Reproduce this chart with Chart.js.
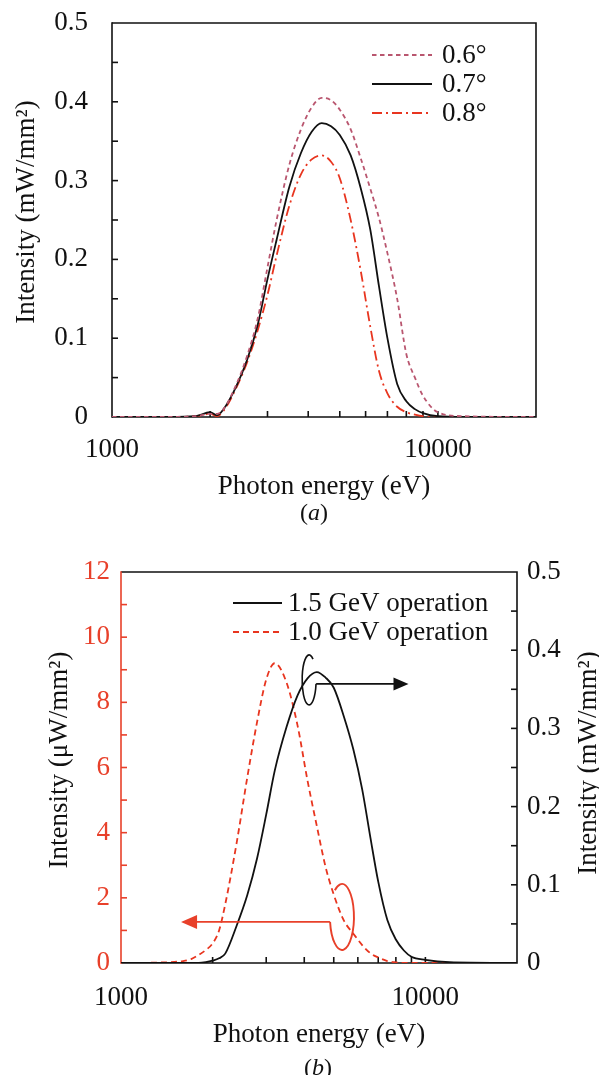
<!DOCTYPE html>
<html>
<head>
<meta charset="utf-8">
<script src="https://cdn.jsdelivr.net/npm/chart.js@4.4.1/dist/chart.umd.min.js"></script>
<style>
  body { margin: 0; background: #fff; width: 599px; height: 1075px; position: relative; overflow: hidden; }
  canvas { position: absolute; left: 0; }
  #chartA { top: 0; }
  #chartB { top: 540px; }
  .cap { position: absolute; font-family: 'Liberation Serif', 'Times New Roman', serif; font-size: 24px; color: #111; transform: translateX(-50%); }
</style>
</head>
<body>
<canvas id="chartA" width="599" height="540"></canvas>
<canvas id="chartB" width="599" height="535"></canvas>
<div class="cap" style="left:314px; top:499px">(<i>a</i>)</div>
<div class="cap" style="left:318px; top:1054px">(<i>b</i>)</div>
<script>
// panel (a): intensity (mW/mm2) vs photon energy (eV)
const energyA = [1000, 1500, 1800, 2000, 2100, 2200, 2400, 2600, 2800, 3000, 3200, 3500, 3800, 4100, 4400, 4700, 5000, 5400, 5800, 6200, 6600, 7000, 7500, 8000, 8500, 9000, 10000, 12000, 20000];
const angle06 = [0, 0, 0.001, 0.004, 0.004, 0.010, 0.040, 0.078, 0.125, 0.190, 0.250, 0.320, 0.365, 0.393, 0.405, 0.402, 0.390, 0.365, 0.328, 0.290, 0.252, 0.208, 0.150, 0.080, 0.050, 0.027, 0.006, 0.001, 0];
const angle07 = [0, 0, 0.001, 0.006, 0.002, 0.010, 0.038, 0.073, 0.117, 0.175, 0.225, 0.292, 0.335, 0.362, 0.373, 0.369, 0.358, 0.332, 0.290, 0.238, 0.165, 0.100, 0.042, 0.020, 0.010, 0.005, 0.001, 0, 0];
const angle08 = [0, 0, 0.001, 0.004, 0.001, 0.008, 0.036, 0.070, 0.110, 0.155, 0.205, 0.268, 0.308, 0.327, 0.332, 0.324, 0.303, 0.250, 0.185, 0.115, 0.058, 0.030, 0.013, 0.006, 0.003, 0.001, 0, 0, 0];

// panel (b): 1.5 GeV in mW/mm2 (right axis), 1.0 GeV in uW/mm2 (left axis)
const energyB = [1000, 1400, 1600, 1700, 1800, 1900, 2000, 2100, 2200, 2400, 2600, 2800, 3000, 3200, 3500, 3800, 4100, 4400, 4700, 5000, 5400, 5800, 6200, 6600, 7000, 7500, 8000, 8500, 9000, 10000, 12000, 20000];
const op15GeV = [0, 0, 0, 0, 0, 0.001, 0.003, 0.006, 0.012, 0.048, 0.087, 0.134, 0.190, 0.246, 0.302, 0.342, 0.364, 0.372, 0.365, 0.352, 0.315, 0.273, 0.222, 0.160, 0.104, 0.055, 0.030, 0.016, 0.008, 0.004, 0.001, 0];
const op10GeV = [0, 0.02, 0.06, 0.12, 0.25, 0.4, 0.6, 1.0, 1.8, 3.7, 5.7, 7.4, 8.7, 9.2, 8.6, 7.3, 5.6, 4.2, 2.95, 2.1, 1.3, 0.9, 0.55, 0.3, 0.17, 0.06, 0.02, 0, 0, 0, 0, 0];

const xLabelVals = [1000, 10000];
const xTickVals = [1000, 2000, 3000, 4000, 5000, 6000, 7000, 8000, 9000, 10000, 20000];
const xMinorVals = [2000, 3000, 4000, 5000, 6000, 7000, 8000, 9000, 10000];

const SERIF = "'Liberation Serif', 'Times New Roman', serif";
const RED = '#e8351f';
const AXRED = '#e8402a';
const MAUVE = '#b9566f';
const INK = '#111';

Chart.defaults.font.family = SERIF;
Chart.defaults.font.size = 27;
Chart.defaults.color = INK;

function pairs(xs, ys) {
  return xs.map((x, i) => ({x: x, y: ys[i]}));
}

function xAxis(height, pad) {
  return {
    type: 'logarithmic', min: 1000, max: 20000,
    grid: {display: false, drawTicks: false},
    border: {display: false},
    afterBuildTicks: s => { s.ticks = xTickVals.map(v => ({value: v})); },
    ticks: {autoSkip: false, maxRotation: 0, padding: pad,
      callback: v => xLabelVals.includes(v) ? String(v) : ''},
    title: {display: true, text: 'Photon energy (eV)', padding: {top: 0, bottom: 2}},
    afterFit: s => { s.height = height; }
  };
}

// fixed width, and no extra top/bottom room for the end labels
function fitY(width) {
  return s => { s.width = width; s.paddingTop = 0; s.paddingBottom = 0; };
}

function tickLine(ctx, x1, y1, x2, y2) {
  ctx.beginPath(); ctx.moveTo(x1, y1); ctx.lineTo(x2, y2); ctx.stroke();
}

function drawFrame(chart, leftColor, yLeft, leftStep, yRight, rightStep) {
  const {ctx, chartArea: a} = chart;
  const xs = chart.scales.x;
  ctx.save();
  ctx.lineWidth = 1.6;
  ctx.strokeStyle = INK;
  ctx.beginPath();
  ctx.moveTo(a.left, a.top); ctx.lineTo(a.right, a.top);
  ctx.lineTo(a.right, a.bottom); ctx.lineTo(a.left, a.bottom);
  ctx.stroke();
  xMinorVals.forEach(v => {
    const px = xs.getPixelForValue(v);
    tickLine(ctx, px, a.bottom, px, a.bottom - 6);
  });
  if (yRight) {
    for (let v = rightStep; v < yRight.max - 1e-9; v += rightStep) {
      const py = yRight.getPixelForValue(v);
      tickLine(ctx, a.right, py, a.right - 6, py);
    }
  }
  ctx.strokeStyle = leftColor;
  tickLine(ctx, a.left, a.top - 0.8, a.left, a.bottom + 0.8);
  for (let v = leftStep; v < yLeft.max - 1e-9; v += leftStep) {
    const py = yLeft.getPixelForValue(v);
    tickLine(ctx, a.left, py, a.left + 6, py);
  }
  ctx.restore();
}

function vTitle(ctx, text, x, y) {
  ctx.save();
  ctx.translate(x, y);
  ctx.rotate(-Math.PI / 2);
  ctx.font = '27px ' + SERIF;
  ctx.fillStyle = INK;
  ctx.textAlign = 'center';
  ctx.textBaseline = 'middle';
  ctx.fillText(text, 0, 0);
  ctx.restore();
}

function drawLegend(chart, x0, x1, tx, rows) {
  const ctx = chart.ctx;
  ctx.save();
  ctx.font = '27px ' + SERIF;
  ctx.textBaseline = 'middle';
  ctx.fillStyle = INK;
  chart.data.datasets.forEach((ds, i) => {
    const y = rows[i];
    ctx.strokeStyle = ds.borderColor;
    ctx.lineWidth = ds.borderWidth;
    ctx.setLineDash(ds.borderDash || []);
    tickLine(ctx, x0, y, x1, y);
    ctx.setLineDash([]);
    ctx.fillText(ds.label, tx, y + 1);
  });
  ctx.restore();
}

const commonOpts = {
  responsive: false,
  animation: false,
  events: [],
  plugins: {legend: {display: false}, tooltip: {enabled: false}},
  elements: {point: {radius: 0}, line: {cubicInterpolationMode: 'monotone', borderWidth: 1.8}}
};

new Chart(document.getElementById('chartA'), {
  type: 'line',
  data: {
    datasets: [
      {label: '0.6°', data: pairs(energyA, angle06), borderColor: MAUVE, borderDash: [4.5, 3.5], borderWidth: 1.8},
      {label: '0.7°', data: pairs(energyA, angle07), borderColor: INK, borderWidth: 1.8},
      {label: '0.8°', data: pairs(energyA, angle08), borderColor: RED, borderDash: [10, 4, 2, 4], borderWidth: 1.8}
    ]
  },
  options: Object.assign({}, commonOpts, {
    layout: {padding: {left: 11, right: 63, top: 23, bottom: 35}},
    scales: {
      x: xAxis(88, 17),
      y: {
        min: 0, max: 0.5,
        grid: {display: false, drawTicks: false},
        border: {display: false},
        ticks: {stepSize: 0.1, padding: 24},
        afterFit: fitY(101)
      }
    }
  }),
  plugins: [{
    id: 'decorA',
    beforeDatasetsDraw(chart) {
      drawFrame(chart, INK, chart.scales.y, 0.05, null, 0);
    },
    afterDraw(chart) {
      vTitle(chart.ctx, 'Intensity (mW/mm²)', 27, 212);
      drawLegend(chart, 372, 432, 442, [55, 84, 113]);
    }
  }]
});

new Chart(document.getElementById('chartB'), {
  type: 'line',
  data: {
    datasets: [
      {label: '1.5 GeV operation', data: pairs(energyB, op15GeV), yAxisID: 'yR', borderColor: INK, borderWidth: 1.8},
      {label: '1.0 GeV operation', data: pairs(energyB, op10GeV), yAxisID: 'yL', borderColor: RED, borderDash: [6, 4], borderWidth: 1.8}
    ]
  },
  options: Object.assign({}, commonOpts, {
    layout: {padding: {left: 44, right: 0, top: 32, bottom: 22}},
    scales: {
      x: xAxis(90, 19),
      yL: {
        position: 'left', min: 0, max: 12,
        grid: {display: false, drawTicks: false},
        border: {display: false},
        ticks: {stepSize: 2, padding: 11, color: AXRED},
        afterFit: fitY(77)
      },
      yR: {
        position: 'right', min: 0, max: 0.5,
        grid: {display: false, drawTicks: false},
        border: {display: false},
        ticks: {stepSize: 0.1, padding: 10},
        afterFit: fitY(82)
      }
    }
  }),
  plugins: [{
    id: 'decorB',
    beforeDatasetsDraw(chart) {
      drawFrame(chart, AXRED, chart.scales.yL, 1, chart.scales.yR, 0.05);
    },
    afterDatasetsDraw(chart) {
      const {ctx} = chart;
      const xs = chart.scales.x, yL = chart.scales.yL, yR = chart.scales.yR;
      ctx.save();
      // loop + arrow towards the right axis (1.5 GeV curve)
      let cx = xs.getPixelForValue(4150), cy = yR.getPixelForValue(0.362);
      ctx.strokeStyle = INK; ctx.fillStyle = INK; ctx.lineWidth = 1.6;
      ctx.beginPath();
      ctx.ellipse(cx, cy, 7, 25, 0, 0.16, 5.3, false);
      ctx.stroke();
      let ay = cy + 4, tip = xs.getPixelForValue(8800);
      tickLine(ctx, cx + 7, ay, tip - 14, ay);
      ctx.beginPath();
      ctx.moveTo(tip, ay); ctx.lineTo(tip - 15, ay - 6.5); ctx.lineTo(tip - 15, ay + 6.5);
      ctx.closePath(); ctx.fill();
      // loop + arrow towards the left axis (1.0 GeV curve)
      cx = xs.getPixelForValue(5320); cy = yL.getPixelForValue(1.415);
      ctx.strokeStyle = AXRED; ctx.fillStyle = AXRED; ctx.lineWidth = 1.9;
      ctx.beginPath();
      ctx.ellipse(cx, cy, 12, 33, 0, Math.PI - 0.15, -2.2, true);
      ctx.stroke();
      ay = cy + 5; tip = xs.getPixelForValue(1575);
      tickLine(ctx, cx - 12, ay, tip + 14, ay);
      ctx.beginPath();
      ctx.moveTo(tip, ay); ctx.lineTo(tip + 16, ay - 7); ctx.lineTo(tip + 16, ay + 7);
      ctx.closePath(); ctx.fill();
      ctx.restore();
    },
    afterDraw(chart) {
      vTitle(chart.ctx, 'Intensity (μW/mm²)', 60, 220);
      vTitle(chart.ctx, 'Intensity (mW/mm²)', 589, 223);
      drawLegend(chart, 233, 282, 288, [63, 92]);
    }
  }]
});
</script>
</body>
</html>
